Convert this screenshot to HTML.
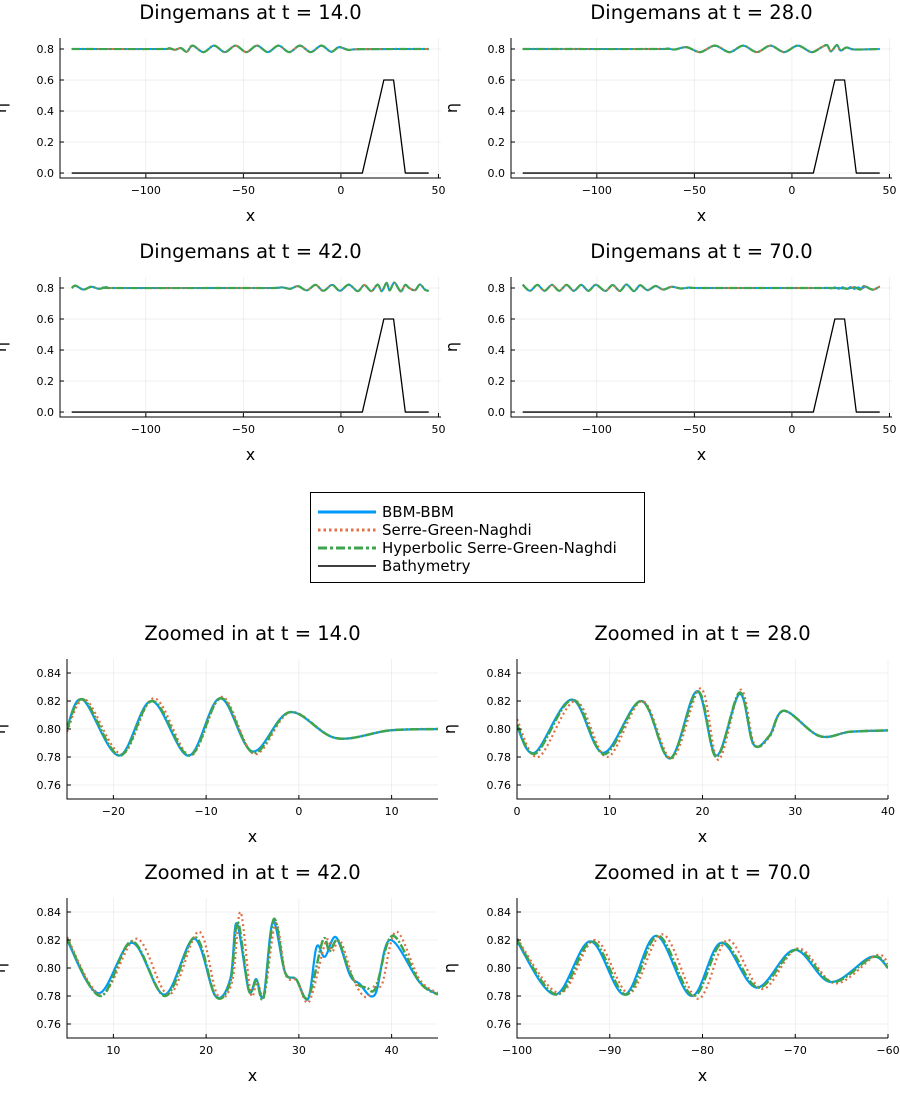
<!DOCTYPE html>
<html><head><meta charset="utf-8"><style>
body{margin:0;background:#fff;}
svg{display:block;font-family:"DejaVu Sans","Liberation Sans",sans-serif;}
</style></head><body>
<svg id="fig" width="900" height="1100" viewBox="0 0 900 1100">
<rect width="900" height="1100" fill="#fff"/>
<g>
<rect x="310.5" y="492.5" width="334" height="90" fill="#fff" stroke="#000" stroke-width="1"/>
<line x1="318" y1="512" x2="376" y2="512" stroke="#009AFA" stroke-width="3"/>
<text x="382" y="517" font-size="15">BBM-BBM</text>
<line x1="318" y1="530" x2="376" y2="530" stroke="#E26F46" stroke-width="3" stroke-dasharray="2.5,3"/>
<text x="382" y="535" font-size="15">Serre-Green-Naghdi</text>
<line x1="318" y1="548" x2="376" y2="548" stroke="#3EA44E" stroke-width="3" stroke-dasharray="9,3,3,3"/>
<text x="382" y="553" font-size="15">Hyperbolic Serre-Green-Naghdi</text>
<line x1="318" y1="566" x2="376" y2="566" stroke="#000" stroke-width="1.5"/>
<text x="382" y="571" font-size="15">Bathymetry</text>
</g>
</svg>
<script>
// ---- data ----
const bathyX = [-138, 11, 22, 27, 33, 45];
const bathyEta = [0, 0, 0.6, 0.6, 0, 0];

const t14X = [-138,-92,-88,-85,-82,-79,-76,-70.5,-65,-59.5,-54,-48.5,-43,-37.5,-32,-26.5,-21,-15.5,-10,-5,-1,4,10,45];
const t14Eta = [.8,.8,.805,.795,.806,.782,.822,.78,.822,.78,.822,.78,.822,.78,.822,.78,.822,.78,.822,.782,.812,.794,.799,.8];

const t28X = [-138,-70,-64,-60,-54,-47,-39.5,-32,-25,-18,-11,-4,3,10,15,18,20,23,25,28,32,45];
const t28Eta = [.8,.8,.803,.797,.812,.78,.822,.78,.822,.78,.822,.78,.822,.78,.81,.825,.785,.825,.79,.81,.797,.8];

const t42X = [-138,-136,-132,-128,-124,-120,-116,-50,-34,-30,-26,-22,-17.5,-13,-9,-4.5,-0.5,4,8.6,12,15.6,18.8,21,23.4,25,27.3,29.7,31,33,35,38,40.5,43,45];
const t42Eta = [.8,.815,.79,.808,.795,.805,.8,.8,.8,.804,.795,.812,.785,.82,.782,.82,.782,.822,.78,.819,.78,.822,.78,.833,.785,.835,.792,.779,.82,.8,.786,.823,.79,.781];

const t70X = [-138,-134.3,-130.5,-126.8,-123,-119.3,-115.5,-111.8,-108,-104.3,-100.5,-95.7,-91.9,-88.2,-84.8,-81,-77.8,-74,-69.9,-66,-61.6,-57,-52,-45,20,28,32,35,37,40,42,45];
const t70Eta = [.822,.782,.82,.782,.82,.782,.82,.782,.82,.782,.821,.781,.819,.781,.823,.78,.818,.786,.813,.79,.808,.797,.803,.8,.8,.795,.805,.79,.812,.795,.79,.81];
const t70NoiseX = [15,18,20,22,24,26,28,30,32,34,36,38,40];
const t70NoiseEta = [.8,.803,.796,.806,.793,.807,.794,.808,.792,.806,.795,.81,.797];

// zoomed panels
const z14GreenX = [-25,-23.2,-19.3,-15.8,-11.8,-8.4,-4.9,-1.0,4.0,9.8,15];
const z14GreenEta = [.800,.821,.781,.820,.781,.822,.783,.812,.7935,.799,.800];
const z14BlueX = [-25,-23.3,-19.4,-15.9,-11.9,-8.5,-5.0,-1.0,4.0,9.8,15];
const z14BlueEta = [.801,.821,.781,.820,.781,.822,.784,.812,.7935,.799,.800];
const z14OrangeX = [-25,-23.0,-19.1,-15.6,-11.7,-8.3,-4.8,-0.9,4.0,9.8,15];
const z14OrangeEta = [.798,.821,.782,.822,.781,.823,.782,.812,.7935,.799,.800];

const z28GreenX = [0,2.0,6.0,9.4,13.4,16.5,19.5,21.5,24.0,25.5,27.2,28.8,32.6,35.9,40];
const z28GreenEta = [.803,.7825,.821,.782,.820,.779,.827,.780,.826,.789,.795,.813,.795,.798,.799];
const z28BlueX = [0,1.9,5.9,9.3,13.4,16.5,19.4,21.5,24.0,25.5,27.2,28.8,32.6,35.9,40];
const z28BlueEta = [.802,.783,.821,.783,.820,.779,.827,.781,.825,.789,.795,.813,.795,.798,.799];
const z28OrangeX = [0,2.3,6.3,9.7,13.5,16.7,19.8,21.7,24.1,25.6,27.3,28.8,32.6,35.9,40];
const z28OrangeEta = [.807,.780,.820,.780,.820,.779,.829,.778,.828,.789,.795,.813,.795,.798,.799];

const z42GreenX = [5,8.6,12.0,15.6,18.8,21.0,22.6,23.4,24.6,25.4,26.2,27.3,28.5,29.7,31.0,32.6,33.3,34.2,35.3,36.2,37.3,38.3,40.1,43.0,45];
const z42GreenEta = [.821,.780,.819,.780,.822,.780,.790,.833,.784,.791,.779,.835,.797,.792,.779,.820,.812,.820,.800,.789,.786,.786,.823,.790,.781];
const z42BlueX = [5,8.4,12.0,15.5,18.7,21.0,22.6,23.3,24.6,25.4,26.2,27.2,28.5,29.7,31.0,31.9,32.8,34.0,35.5,36.5,38.2,39.8,43.0,45];
const z42BlueEta = [.820,.782,.818,.781,.821,.780,.792,.832,.784,.792,.780,.833,.797,.792,.778,.815,.808,.822,.795,.789,.781,.820,.790,.781];
const z42OrangeX = [5,8.7,12.5,16.0,19.2,21.2,22.8,23.7,24.8,25.5,26.3,27.5,28.6,29.8,31.1,32.9,33.6,34.5,36.0,37.3,38.3,39.0,40.5,43.0,45];
const z42OrangeEta = [.822,.781,.821,.781,.826,.781,.790,.840,.782,.790,.781,.832,.795,.791,.776,.819,.812,.819,.790,.779,.789,.789,.826,.792,.782];

const z70GreenX = [-100,-95.7,-91.9,-88.2,-84.8,-81.0,-77.8,-74.0,-69.9,-66.0,-61.6,-60];
const z70GreenEta = [.820,.781,.819,.781,.823,.780,.818,.786,.813,.790,.808,.800];
const z70BlueX = [-100,-95.9,-92.1,-88.4,-85.0,-81.2,-78.0,-74.2,-70.1,-66.2,-61.8,-60];
const z70BlueEta = [.819,.781,.819,.781,.823,.780,.818,.786,.813,.790,.808,.800];
const z70OrangeX = [-100,-95.4,-91.6,-87.9,-84.3,-80.5,-77.3,-73.6,-69.7,-65.7,-61.3,-60];
const z70OrangeEta = [.821,.782,.820,.782,.824,.778,.820,.785,.814,.789,.809,.803];

// ---- drawing ----
const NS = "http://www.w3.org/2000/svg";
const fig = document.getElementById('fig');
function mk(tag, attrs, parent){const e=document.createElementNS(NS,tag);for(const k in attrs)e.setAttribute(k,attrs[k]);(parent||fig).appendChild(e);return e;}
const BLUE="#009AFA", ORANGE="#E26F46", GREEN="#3EA44E";

function smoothPath(xs, ys, sx, sy){
  const P = xs.map((x,i)=>[sx(x), sy(ys[i])]);
  let d = `M${P[0][0].toFixed(2)},${P[0][1].toFixed(2)}`;
  for(let i=0;i<P.length-1;i++){
    const p0=P[Math.max(i-1,0)], p1=P[i], p2=P[i+1], p3=P[Math.min(i+2,P.length-1)];
    const c1=[p1[0]+(p2[0]-p0[0])/6, p1[1]+(p2[1]-p0[1])/6];
    const c2=[p2[0]-(p3[0]-p1[0])/6, p2[1]-(p3[1]-p1[1])/6];
    d += ` C${c1[0].toFixed(2)},${c1[1].toFixed(2)} ${c2[0].toFixed(2)},${c2[1].toFixed(2)} ${p2[0].toFixed(2)},${p2[1].toFixed(2)}`;
  }
  return d;
}
function linePath(xs, ys, sx, sy){
  return xs.map((x,i)=>(i?'L':'M')+sx(x).toFixed(2)+','+sy(ys[i]).toFixed(2)).join(' ');
}

function panel(o){
  const g = mk('g',{});
  
  
  const sx = x => o.x0 + (x-o.xmin)/(o.xmax-o.xmin)*(o.x1-o.x0);
  const sy = y => o.y1 - (y-o.ymin)/(o.ymax-o.ymin)*(o.y1-o.y0);
  o.xticks.forEach(t=>{const l=mk('line',{x1:sx(t),x2:sx(t),y1:o.y0,y2:o.y1,stroke:'#000','stroke-opacity':0.1,'stroke-width':0.6},g);
     });
  o.yticks.forEach(t=>{const l=mk('line',{x1:o.x0,x2:o.x1,y1:sy(t),y2:sy(t),stroke:'#000','stroke-opacity':0.1,'stroke-width':0.6},g);
     });
  const cid='clip'+o.name;
  const cp=mk('clipPath',{id:cid},g); mk('rect',{x:o.x0,y:o.y0,width:o.x1-o.x0,height:o.y1-o.y0},cp);
  const sg=mk('g',{'clip-path':`url(#${cid})`},g);
   
  o.series.forEach(s=>{
    const p=mk('path',{d:(s.linear?linePath:smoothPath)(s.x,s.y,sx,sy),fill:'none',stroke:s.color,'stroke-width':s.w,'stroke-dasharray':s.dash||'none','stroke-linejoin':'round'},sg);
    
    
  });
  const ax=mk('path',{d:`M${o.x0},${o.y0} L${o.x0},${o.y1} L${o.x1},${o.y1}`,fill:'none',stroke:'#000','stroke-width':1},g);
   
  o.xticks.forEach((t,i)=>{
    mk('line',{x1:sx(t),x2:sx(t),y1:o.y1,y2:o.y1-4,stroke:'#000','stroke-width':1},g);
    const tx=mk('text',{x:sx(t),y:o.y1+16,'font-size':11,'text-anchor':'middle'},g);
    tx.textContent=o.xlabels[i];
     
  });
  o.yticks.forEach((t,i)=>{
    mk('line',{x1:o.x0,x2:o.x0+4,y1:sy(t),y2:sy(t),stroke:'#000','stroke-width':1},g);
    const tx=mk('text',{x:o.x0-6,y:sy(t)+4,'font-size':11,'text-anchor':'end'},g);
    tx.textContent=o.ylabels[i];
     
  });
  const ti=mk('text',{x:(o.x0+o.x1)/2,y:o.y0-19,'font-size':19.5,'text-anchor':'middle'},g);
  ti.textContent=o.title;
   
  const xl=mk('text',{x:(o.x0+o.x1)/2,y:o.y1+43,'font-size':16,'text-anchor':'middle'},g);
  xl.textContent='x';
   
  const yc=(o.y0+o.y1)/2, yx=o.x0-o.ylabOff;
  const yl=mk('text',{x:yx,y:yc,'font-size':16,'text-anchor':'middle',transform:`rotate(-90 ${yx} ${yc})`},g);
  yl.textContent='η';
   
}

const topXt=[-100,-50,0,50], topXl=['\u2212100','\u221250','0','50'];
const topYt=[0,0.2,0.4,0.6,0.8], topYl=['0.0','0.2','0.4','0.6','0.8'];
function topSeries(xs, ys, extra){
  const s=[];
  if(extra) s.push({name:'bbm-noise',x:extra[0],y:extra[1],color:BLUE,w:1.5,linear:true});
  s.push({name:'bbm-bbm-line',x:xs,y:ys,color:BLUE,w:2});
  s.push({name:'serre-green-naghdi-line',x:xs,y:ys,color:ORANGE,w:2,dash:'2,3'});
  s.push({name:'hyperbolic-sgn-line',x:xs,y:ys,color:GREEN,w:2.2,dash:'8,2,2,2'});
  s.push({name:'bathymetry-line',x:bathyX,y:bathyEta,color:'#000',w:1.3,linear:true});
  return s;
}
const topBase={xmin:-144,xmax:51.3,ymin:-0.032,ymax:0.871,xticks:topXt,xlabels:topXl,yticks:topYt,ylabels:topYl,ylabOff:54};
panel(Object.assign({},topBase,{name:'panel-t14',title:'Dingemans at t = 14.0',x0:60,x1:441,y0:38,y1:178,series:topSeries(t14X,t14Eta)}));
panel(Object.assign({},topBase,{name:'panel-t28',title:'Dingemans at t = 28.0',x0:511,x1:892,y0:38,y1:178,series:topSeries(t28X,t28Eta)}));
panel(Object.assign({},topBase,{name:'panel-t42',title:'Dingemans at t = 42.0',x0:60,x1:441,y0:277,y1:417,series:topSeries(t42X,t42Eta)}));
panel(Object.assign({},topBase,{name:'panel-t70',title:'Dingemans at t = 70.0',x0:511,x1:892,y0:277,y1:417,series:topSeries(t70X,t70Eta,[t70NoiseX,t70NoiseEta])}));

const zYt=[0.76,0.78,0.80,0.82,0.84], zYl=['0.76','0.78','0.80','0.82','0.84'];
function zSeries(bx,by,ox,oy,gx,gy){
  return [
    {name:'bbm-bbm-line',x:bx,y:by,color:BLUE,w:2.2},
    {name:'serre-green-naghdi-line',x:ox,y:oy,color:ORANGE,w:2.2,dash:'2,3'},
    {name:'hyperbolic-sgn-line',x:gx,y:gy,color:GREEN,w:2.5,dash:'9,2,2,2'}
  ];
}
const zBase={ymin:0.75,ymax:0.85,yticks:zYt,ylabels:zYl,ylabOff:62};
panel(Object.assign({},zBase,{name:'zoom-t14',title:'Zoomed in at t = 14.0',x0:67,x1:438,y0:659,y1:799,xmin:-25,xmax:15,xticks:[-20,-10,0,10],xlabels:['\u221220','\u221210','0','10'],
  series:zSeries(z14BlueX,z14BlueEta,z14OrangeX,z14OrangeEta,z14GreenX,z14GreenEta)}));
panel(Object.assign({},zBase,{name:'zoom-t28',title:'Zoomed in at t = 28.0',x0:517,x1:888,y0:659,y1:799,xmin:0,xmax:40,xticks:[0,10,20,30,40],xlabels:['0','10','20','30','40'],
  series:zSeries(z28BlueX,z28BlueEta,z28OrangeX,z28OrangeEta,z28GreenX,z28GreenEta)}));
panel(Object.assign({},zBase,{name:'zoom-t42',title:'Zoomed in at t = 42.0',x0:67,x1:438,y0:898,y1:1038,xmin:5,xmax:45,xticks:[10,20,30,40],xlabels:['10','20','30','40'],
  series:zSeries(z42BlueX,z42BlueEta,z42OrangeX,z42OrangeEta,z42GreenX,z42GreenEta)}));
panel(Object.assign({},zBase,{name:'zoom-t70',title:'Zoomed in at t = 70.0',x0:517,x1:888,y0:898,y1:1038,xmin:-100,xmax:-60,xticks:[-100,-90,-80,-70,-60],xlabels:['\u2212100','\u221290','\u221280','\u221270','\u221260'],
  series:zSeries(z70BlueX,z70BlueEta,z70OrangeX,z70OrangeEta,z70GreenX,z70GreenEta)}));
</script>
</body></html>
